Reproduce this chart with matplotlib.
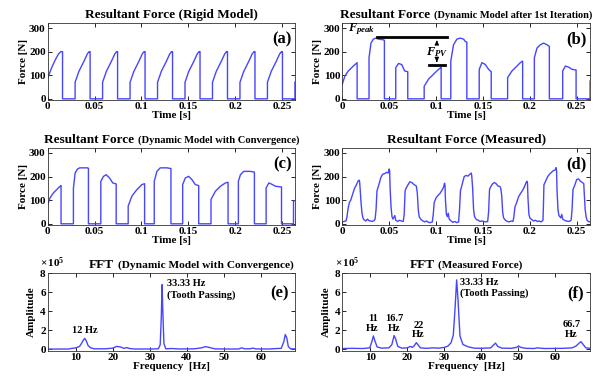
import numpy as np
import matplotlib
matplotlib.use("Agg")
import matplotlib.pyplot as plt
from matplotlib.offsetbox import TextArea, HPacker, AnchoredOffsetbox

plt.rcParams['font.family'] = ['Liberation Serif', 'DejaVu Serif']
plt.rcParams['font.weight'] = 'bold'
plt.rcParams['axes.labelweight'] = 'bold'
plt.rcParams['mathtext.fontset'] = 'custom'
plt.rcParams['mathtext.rm'] = 'Liberation Serif:bold'
plt.rcParams['mathtext.it'] = 'Liberation Serif:italic:bold'
plt.rcParams['mathtext.bf'] = 'Liberation Serif:bold'

# --- data ---
# force pulses: each inner list is one tooth engagement (time [s], force [N])
rigid_t = [[0.0, 0.004, 0.008, 0.0115, 0.014, 0.0158],
           [0.0292, 0.0332, 0.0385, 0.0422, 0.0442, 0.0452],
           [0.0585, 0.0625, 0.0678, 0.0715, 0.0735, 0.0745],
           [0.0878, 0.0918, 0.0971, 0.1008, 0.1028, 0.1038],
           [0.1171, 0.1211, 0.1264, 0.1301, 0.1321, 0.1331],
           [0.1464, 0.1504, 0.1557, 0.1594, 0.1614, 0.1624],
           [0.1757, 0.1797, 0.1850, 0.1887, 0.1907, 0.1917],
           [0.2050, 0.2090, 0.2143, 0.2180, 0.2200, 0.2210],
           [0.2343, 0.2383, 0.2436, 0.2473, 0.2493, 0.2503],
           [0.2636, 0.2650]]
rigid_f = [[88, 130, 165, 190, 200, 200],
           [70, 116, 158, 190, 200, 200],
           [70, 116, 158, 190, 200, 200],
           [70, 116, 158, 190, 200, 200],
           [70, 116, 158, 190, 200, 200],
           [70, 116, 158, 190, 200, 200],
           [70, 116, 158, 190, 200, 200],
           [70, 116, 158, 190, 200, 200],
           [70, 116, 158, 190, 200, 200],
           [70, 80]]

iter1_t = [[0.0, 0.0028, 0.0064, 0.0118, 0.0158],
           [0.0285, 0.0306, 0.0331, 0.0356, 0.0385, 0.0438, 0.0449],
           [0.0570, 0.0600, 0.0634, 0.0665, 0.0698],
           [0.0873, 0.0919, 0.0972, 0.1008, 0.1043, 0.1054],
           [0.1157, 0.1186, 0.1222, 0.1257, 0.1293, 0.1311, 0.1328],
           [0.1460, 0.1489, 0.1524, 0.1560, 0.1578, 0.1588],
           [0.1763, 0.1809, 0.1863, 0.1898, 0.1923],
           [0.2048, 0.2076, 0.2112, 0.2147, 0.2183, 0.2208],
           [0.2350, 0.2379, 0.2415, 0.2450, 0.2493],
           [0.2642, 0.2650]]
iter1_f = [[62, 97, 118, 139, 153],
           [174, 236, 253, 257, 253, 250, 248],
           [132, 150, 145, 118, 115],
           [53, 83, 104, 118, 130, 133],
           [160, 229, 253, 257, 253, 243, 240],
           [125, 153, 146, 125, 118, 116],
           [90, 118, 139, 153, 160],
           [174, 215, 229, 236, 229, 222],
           [118, 139, 134, 125, 122],
           [76, 80]]

conv_t = [[0.0, 0.0025, 0.0061, 0.0096, 0.0132, 0.0142],
          [0.0274, 0.0292, 0.0317, 0.0342, 0.0424, 0.0434],
          [0.0566, 0.0595, 0.0623, 0.0659, 0.0694, 0.0730],
          [0.0858, 0.0897, 0.0951, 0.1004, 0.1033],
          [0.1136, 0.1164, 0.1200, 0.1271, 0.1314],
          [0.1439, 0.1467, 0.1503, 0.1538, 0.1574, 0.1610],
          [0.1741, 0.1788, 0.1841, 0.1895, 0.1923],
          [0.2033, 0.2055, 0.2090, 0.2162, 0.2204],
          [0.2329, 0.2358, 0.2382, 0.2429, 0.2493],
          [0.2621, 0.2650]]
conv_f = [[82, 110, 131, 145, 159, 162],
          [150, 215, 232, 237, 237, 235],
          [180, 201, 208, 194, 173, 169],
          [75, 117, 145, 166, 170],
          [180, 222, 237, 237, 234],
          [166, 194, 201, 187, 166, 162],
          [103, 138, 159, 173, 176],
          [180, 208, 222, 222, 219],
          [152, 173, 169, 159, 156],
          [96, 100]]

meas_t = [0.000, 0.002, 0.004, 0.005, 0.006, 0.0075, 0.009, 0.011, 0.013, 0.015, 0.017, 0.018,
          0.0185, 0.019, 0.020, 0.021, 0.022, 0.023, 0.025, 0.027, 0.028, 0.030, 0.032, 0.034, 0.035,
          0.036, 0.037, 0.039, 0.041, 0.043, 0.045, 0.047, 0.049, 0.050, 0.0505, 0.051, 0.052, 0.053,
          0.054, 0.056, 0.057, 0.059, 0.061, 0.063, 0.065,
          0.066, 0.067, 0.068, 0.070, 0.072, 0.074, 0.076, 0.078, 0.079, 0.080, 0.081, 0.082, 0.084,
          0.086, 0.088, 0.090, 0.092, 0.094, 0.096,
          0.097, 0.098, 0.100, 0.102, 0.104, 0.106, 0.108, 0.109, 0.1095, 0.110, 0.111, 0.112, 0.113,
          0.114, 0.116, 0.118, 0.120, 0.122, 0.124,
          0.125, 0.126, 0.128, 0.130, 0.132, 0.134, 0.136, 0.1375, 0.138, 0.139, 0.140, 0.141, 0.143,
          0.145, 0.147, 0.149, 0.151, 0.153, 0.155,
          0.156, 0.157, 0.158, 0.160, 0.162, 0.164, 0.166, 0.168, 0.169, 0.170, 0.171, 0.172, 0.174,
          0.176, 0.178, 0.180, 0.182,
          0.183, 0.184, 0.186, 0.188, 0.190, 0.192, 0.194, 0.196, 0.197, 0.1975, 0.198, 0.199, 0.200,
          0.202, 0.204, 0.206, 0.208, 0.210, 0.212, 0.214,
          0.2145, 0.215, 0.217, 0.219, 0.221, 0.223, 0.225, 0.227, 0.228, 0.2285, 0.229, 0.230, 0.231,
          0.233, 0.234, 0.235, 0.237, 0.239, 0.241, 0.243, 0.244,
          0.245, 0.246, 0.248, 0.250, 0.252, 0.254, 0.256, 0.2575, 0.258, 0.259, 0.260, 0.261, 0.263,
          0.265]
meas_f = [8, 10, 12, 30, 60, 90, 100, 125, 150, 165, 182, 185,
          178, 150, 90, 45, 25, 18, 12, 20, 14, 12, 10, 14, 20,
          60, 140, 165, 195, 210, 212, 218, 215, 232, 225, 150, 70, 30,
          20, 35, 15, 10, 15, 12, 10,
          40, 140, 150, 165, 178, 175, 168, 162, 160, 130, 60, 30, 18,
          12, 8, 12, 6, 5, 8,
          40, 90, 110, 120, 128, 140, 155, 172, 165, 100, 40, 30, 45,
          20, 12, 6, 10, 5, 8,
          60, 140, 170, 200, 205, 202, 210, 215, 205, 150, 60, 30, 18,
          15, 10, 12, 10, 8, 10,
          50, 145, 155, 168, 175, 170, 160, 158, 150, 120, 50, 25, 15,
          10, 8, 12, 10,
          30, 70, 90, 115, 128, 140, 155, 175, 180, 170, 110, 40, 25,
          18, 12, 15, 10, 12, 8, 15,
          80, 165, 182, 200, 210, 218, 225, 228, 238, 225, 140, 60, 35,
          25, 40, 20, 15, 12, 10, 12, 15,
          60, 145, 165, 188, 190, 180, 175, 170, 130, 60, 30, 15, 8,
          10]

# FFT spectra, amplitude in units of 1e5
freq_conv = [2, 8, 9, 10, 11, 11.5, 12, 12.4, 12.8, 13.3, 14, 15, 18, 20, 21, 22, 23, 23.8, 24.5,
             26, 30, 32.3, 32.8, 33.1, 33.3, 33.5, 33.8, 34.3, 36, 38, 42, 44, 45, 46, 47.5, 50,
             54, 54.8, 55.6, 57, 57.8, 58.6, 62, 65.5, 66.2, 66.6, 67, 67.4, 68, 70]
amp_conv = [0.02, 0.03, 0.1, 0.15, 0.3, 0.6, 0.95, 1.15, 0.9, 0.4, 0.15, 0.05, 0.05, 0.12, 0.3,
            0.25, 0.1, 0.18, 0.08, 0.03, 0.03, 0.05, 0.5, 3.5, 6.8, 4.0, 0.6, 0.05, 0.08, 0.03,
            0.05, 0.15, 0.28, 0.2, 0.05, 0.03, 0.03, 0.15, 0.05, 0.05, 0.12, 0.04, 0.03, 0.1, 0.8,
            1.55, 1.2, 0.3, 0.05, 0.03]
freq_meas = [2.5, 5, 8, 9.8, 10.4, 10.8, 11.2, 11.8, 13, 15, 15.8, 16.4, 16.8, 17.4, 18.5, 20,
             20.8, 21.3, 21.8, 22.4, 22.8, 23.5, 25, 27, 28.5, 30, 31, 31.8, 32.4, 32.9, 33.3,
             33.7, 34.2, 35, 36.5, 38, 40, 42.5, 43.4, 43.8, 44.4, 45.5, 48, 49.5, 50, 50.6, 52,
             54.3, 55, 57, 62, 64.5, 65.6, 66.4, 66.9, 67.5, 68.2, 69.5]
amp_meas = [0.08, 0.1, 0.08, 0.15, 0.8, 1.4, 0.9, 0.25, 0.12, 0.15, 0.5, 1.45, 1.1, 0.3, 0.12,
            0.15, 0.3, 0.2, 0.35, 0.7, 0.5, 0.15, 0.1, 0.15, 0.12, 0.2, 0.35, 0.7, 1.5, 4.5, 7.3,
            5.0, 1.4, 0.5, 0.25, 0.12, 0.1, 0.15, 0.5, 0.65, 0.3, 0.12, 0.1, 0.2, 0.35, 0.2, 0.1,
            0.08, 0.15, 0.08, 0.1, 0.15, 0.35, 0.65, 0.8, 0.5, 0.15, 0.1]

time_ticks = [0, 0.05, 0.1, 0.15, 0.2, 0.25]
time_ticklabels = ["0", "0.05", "0.1", "0.15", "0.2", "0.25"]

BLUE = '#4646ff'
T_MAX = 0.264


def pulses_to_line(times, forces):
    t, f = [], []
    for ts, fs in zip(times, forces):
        if ts[0] > 0:
            t.append(ts[0]); f.append(0)
        t += ts; f += fs
        if ts[-1] < T_MAX:
            t.append(ts[-1]); f.append(0)
    return t, f


def style_axes(ax):
    ax.tick_params(direction='in', top=True, right=True, length=3, width=0.6,
                   labelsize=8, pad=1.5)
    for lab in ax.get_xticklabels() + ax.get_yticklabels():
        lab.set_fontweight('bold')
    for s in ax.spines.values():
        s.set_linewidth(0.6)
        s.set_color('#333333')


def mixed_title(ax, main, sub, sub_size, xc=0.5):
    parts = [TextArea(main, textprops=dict(fontsize=9.5, fontweight='bold')),
             TextArea(sub, textprops=dict(fontsize=sub_size, fontweight='bold'))]
    box = HPacker(children=parts, align='baseline', pad=0, sep=2.5)
    anch = AnchoredOffsetbox(loc='lower center', child=box, pad=0, borderpad=0, frameon=False,
                             bbox_to_anchor=(xc, 1.03), bbox_transform=ax.transAxes)
    ax.add_artist(anch)


def force_axes(ax, t, f, letter):
    ax.plot(t, f, color=BLUE, lw=1.0)
    ax.set_xlim(0, T_MAX)
    ax.set_ylim(-5, 320)
    ax.set_xticks(time_ticks)
    ax.set_xticklabels(time_ticklabels)
    ax.set_yticks([0, 100, 200, 300])
    ax.set_xlabel("Time [s]", fontsize=8, fontweight='bold', labelpad=0)
    ax.set_ylabel("Force [N]", fontsize=8, fontweight='bold', labelpad=1)
    ax.text(0.985, 0.79, letter, transform=ax.transAxes, ha='right', va='center',
            fontsize=12, fontweight='bold')
    style_axes(ax)


def fft_axes(ax, fr, am, letter):
    ax.plot(fr, am, color=BLUE, lw=1.0)
    ax.set_xlim(2.4, 69.3)
    ax.set_ylim(-0.15, 8)
    ax.set_xticks([10, 20, 30, 40, 50, 60])
    ax.set_yticks([0, 2, 4, 6, 8])
    ax.set_xlabel("Frequency  [Hz]", fontsize=8, fontweight='bold', labelpad=0)
    ax.set_ylabel("Amplitude", fontsize=8, fontweight='bold', labelpad=3)
    ax.text(-0.03, 1.045, r"$\times\,10^{5}$", transform=ax.transAxes, ha='left', va='bottom',
            fontsize=8)
    ax.text(0.975, 0.74, letter, transform=ax.transAxes, ha='right', va='center',
            fontsize=12, fontweight='bold')
    style_axes(ax)


fig = plt.figure(figsize=(5.98, 3.78), dpi=100)
lx, rx, w = 0.0798, 0.5724, 0.414
ax_a = fig.add_axes([lx, 0.7354, w, 0.203])
ax_b = fig.add_axes([rx, 0.7354, w, 0.203])
ax_c = fig.add_axes([lx, 0.4048, w, 0.203])
ax_d = fig.add_axes([rx, 0.4048, w, 0.203])
ax_e = fig.add_axes([lx, 0.0722, w, 0.205])
ax_f = fig.add_axes([rx, 0.0722, w, 0.205])

# (a)
t, f = pulses_to_line(rigid_t, rigid_f)
force_axes(ax_a, t, f, "(a)")
ax_a.set_title("Resultant Force (Rigid Model)", fontsize=9.5, fontweight='bold', pad=4)

# (b)
t, f = pulses_to_line(iter1_t, iter1_f)
force_axes(ax_b, t, f, "(b)")
mixed_title(ax_b, "Resultant Force", "(Dynamic Model after 1st Iteration)", 7.5)
ax_b.plot([0.0367, 0.1115], [261, 261], color='black', lw=2)
ax_b.plot([0.092, 0.110], [143, 143], color='black', lw=2)
ax_b.text(0.0355, 263, r"$F_{peak}$", ha='right', va='bottom', fontsize=9)
ax_b.annotate("", xy=(0.1008, 259), xytext=(0.1008, 228),
              arrowprops=dict(arrowstyle='-|>', color='black', lw=0.8, mutation_scale=6))
ax_b.annotate("", xy=(0.1008, 145), xytext=(0.1008, 172),
              arrowprops=dict(arrowstyle='-|>', color='black', lw=0.8, mutation_scale=6))
ax_b.text(0.1008, 200, r"$F_{PV}$", ha='center', va='center', fontsize=9)

# (c)
t, f = pulses_to_line(conv_t, conv_f)
force_axes(ax_c, t, f, "(c)")
mixed_title(ax_c, "Resultant Force", "(Dynamic Model with Convergence)", 7.6)

# (d)
force_axes(ax_d, meas_t, meas_f, "(d)")
ax_d.set_title("Resultant Force (Measured)", fontsize=9.5, fontweight='bold', pad=4)

# (e)
fft_axes(ax_e, freq_conv, amp_conv, "(e)")
mixed_title(ax_e, "FFT", "(Dynamic Model with Convergence)", 8.2, xc=0.58)
ax_e.text(12.5, 1.5, "12 Hz", ha='center', va='bottom', fontsize=7.5)
ax_e.text(34.6, 6.9, "33.33 Hz", ha='left', va='center', fontsize=7.5)
ax_e.text(34.6, 5.7, "(Tooth Passing)", ha='left', va='center', fontsize=7.5)

# (f)
fft_axes(ax_f, freq_meas, amp_meas, "(f)")
mixed_title(ax_f, "FFT", "(Measured Force)", 8)
ax_f.text(10.6, 1.75, "11\nHz", ha='center', va='bottom', fontsize=7.5, linespacing=1.1)
ax_f.text(16.4, 1.75, "16.7\nHz", ha='center', va='bottom', fontsize=7.5, linespacing=1.1)
ax_f.text(23.0, 1.05, "22\nHz", ha='center', va='bottom', fontsize=7.5, linespacing=1.1)
ax_f.text(34.3, 7.0, "33.33 Hz", ha='left', va='center', fontsize=7.5)
ax_f.text(34.3, 5.9, "(Tooth Passing)", ha='left', va='center', fontsize=7.5)
ax_f.text(64.3, 1.1, "66.7\nHz", ha='center', va='bottom', fontsize=7.5, linespacing=1.1)

fig.savefig("out.png", dpi=100)
